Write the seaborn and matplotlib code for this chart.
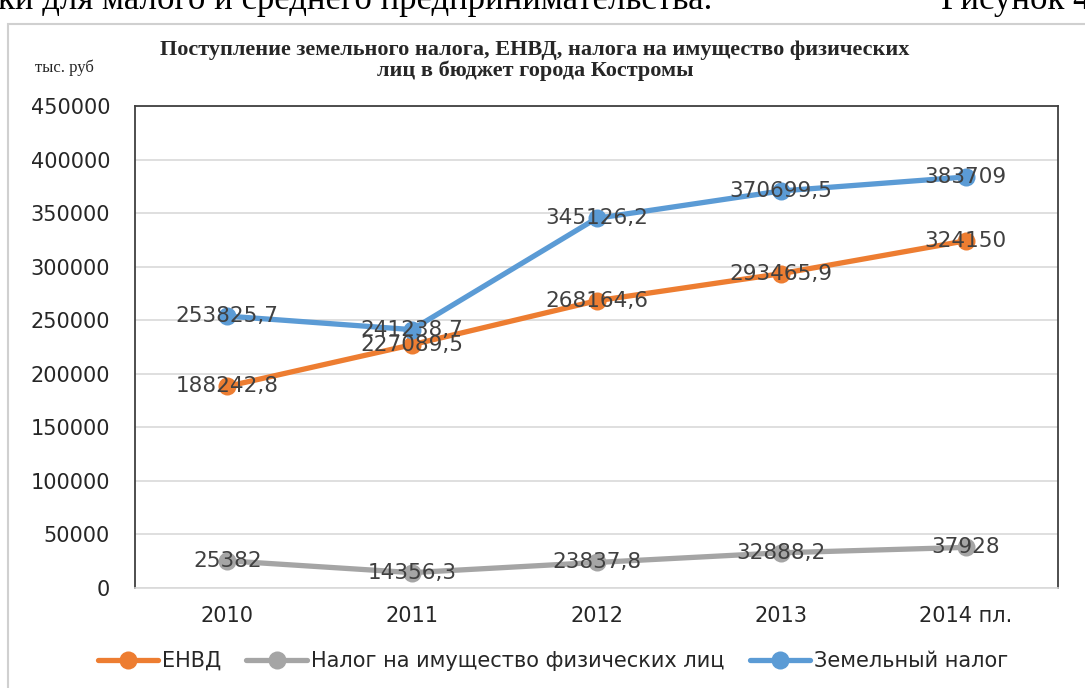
import matplotlib
matplotlib.use('Agg')
import matplotlib.pyplot as plt
import seaborn as sns
import pandas as pd
from matplotlib.patches import Rectangle
from matplotlib.lines import Line2D

years = ['2010', '2011', '2012', '2013', '2014 пл.']
envd = [188242.8, 227089.5, 268164.6, 293465.9, 324150]
imush = [25382, 14356.3, 23837.8, 32888.2, 37928]
zemel = [253825.7, 241238.7, 345126.2, 370699.5, 383709]
series_names = ['ЕНВД', 'Налог на имущество физических лиц', 'Земельный налог']
colors = ['#ED7D31', '#A5A5A5', '#5B9BD5']

df = pd.DataFrame({'Год': years * 3,
                   'Значение': envd + imush + zemel,
                   'Серия': [s for s in series_names for _ in years]})
df['x'] = df.groupby('Серия').cumcount()

sns.set_theme(style='white')
plt.rcParams['font.family'] = ['DejaVu Sans']

fig = plt.figure(figsize=(10.85, 6.88), dpi=100)
ax = fig.add_axes([135 / 1085, 1 - 588 / 688, (1058 - 135) / 1085, (588 - 106) / 688])

for name, col in zip(series_names, colors):
    sub = df[df['Серия'] == name]
    sns.lineplot(data=sub, x='x', y='Значение', ax=ax, color=col, linewidth=3.8,
                 marker='o', markersize=13, markeredgewidth=0, legend=False)

def fmt(v):
    s = f'{v:.1f}'.rstrip('0').rstrip('.')
    return s.replace('.', ',')

for name in series_names:
    sub = df[df['Серия'] == name]
    for xx, v in zip(sub['x'], sub['Значение']):
        ax.text(xx, v, fmt(v), ha='center', va='center', fontsize=15.5, color='#404040')

ax.set_xlim(-0.5, 4.5)
ax.set_ylim(0, 450000)
ax.set_yticks(range(0, 450001, 50000))
ax.set_yticklabels([str(v) for v in range(0, 450001, 50000)], fontsize=15, color='#262626')
ax.set_xticks(range(len(years)))
ax.set_xticklabels(years, fontsize=15, color='#262626')
ax.tick_params(axis='y', length=0, pad=18)
ax.tick_params(axis='x', length=0, pad=13)
ax.set_xlabel('')
ax.set_ylabel('')
ax.yaxis.grid(True, color='#D9D9D9', linewidth=1.2)
ax.set_axisbelow(True)
for sp in ['left', 'right', 'top']:
    ax.spines[sp].set_color('#404040')
    ax.spines[sp].set_linewidth(1.3)
ax.spines['bottom'].set_color('#D9D9D9')
ax.spines['bottom'].set_linewidth(1.2)

# рамка диаграммы
fig.patches.append(Rectangle((8 / 1085, -0.1), 1.2, 1 - 24 / 688 + 0.1, transform=fig.transFigure,
                             fill=False, edgecolor='#D0D0D0', linewidth=1.5))

fig.text(535 / 1085, 1 - 50 / 688,
         'Поступление земельного налога, ЕНВД, налога на имущество физических',
         ha='center', va='center', fontsize=16, fontweight='bold', family='Liberation Serif')
fig.text(535 / 1085, 1 - 71 / 688, 'лиц в бюджет города Костромы',
         ha='center', va='center', fontsize=16, fontweight='bold', family='Liberation Serif')
fig.text(35 / 1085, 1 - 68 / 688, 'тыс. руб', ha='left', va='center', fontsize=12,
         family='Liberation Serif')

# обрезанная строка текста страницы
fig.text(-0.002, 1 - 9 / 688, 'ки для малого и среднего предпринимательства.', ha='left',
         va='baseline', fontsize=25, family='Liberation Serif', color='black')
fig.text(941 / 1085, 1 - 9 / 688, 'Рисунок 4', ha='left', va='baseline', fontsize=25,
         family='Liberation Serif', color='black')

handles = [Line2D([0], [0], color=c, linewidth=3.8, marker='o', markersize=13, markeredgewidth=0)
           for c in colors]
fig.legend(handles, series_names, loc='center', bbox_to_anchor=(553 / 1085, 1 - 661 / 688),
           ncol=3, frameon=False, fontsize=15, handlelength=2.9, handletextpad=0.2,
           columnspacing=1.2)

fig.savefig('out.png', dpi=100)
